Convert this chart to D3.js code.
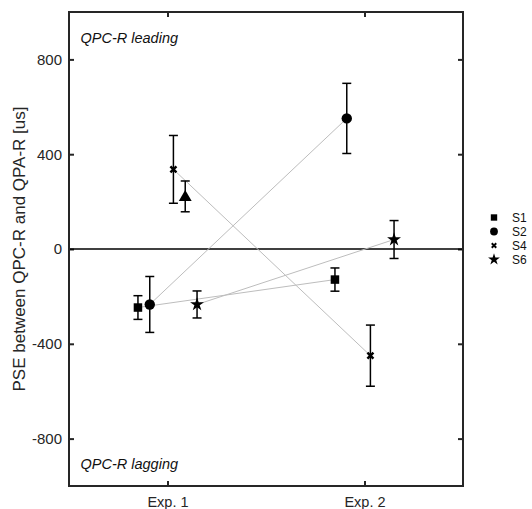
<!DOCTYPE html>
<html>
<head>
<meta charset="utf-8">
<script src="https://cdn.jsdelivr.net/npm/d3@7"></script>
<style>
  body { margin: 0; background: #fff; }
  text { font-family: "Liberation Sans", Arial, sans-serif; }
</style>
</head>
<body>
<div id="chart"></div>
<script>
// experiments on the x axis
var experiments = ["Exp. 1", "Exp. 2"];
var yTicks = [-800, -400, 0, 400, 800];

// subjects: name, marker, x offset inside a group, whether in legend
var subjects = ["S1", "S2", "S4", "S5", "S6"];
var markers = ["square", "circle", "cross", "triangle", "star"];
var offsets = [-0.15, -0.09, 0.03, 0.09, 0.15];
var inLegend = [true, true, true, false, true];

// PSE mean and error for each subject, [Exp. 1, Exp. 2] (null = no data)
var pseMean = [
    [-247, -129],
    [-234, 551],
    [336, -450],
    [222, null],
    [-234, 40]
];
var pseErr = [
    [50, 49],
    [118, 148],
    [143, 129],
    [65, null],
    [57, 80]
];

var margin = {top: 12, right: 69, bottom: 23, left: 69},
    width = 532 - margin.left - margin.right,
    height = 509 - margin.top - margin.bottom;

var svg = d3.select("#chart")
    .append("svg")
    .attr("width", 532)
    .attr("height", 509);

var g = svg.append("g")
    .attr("transform", "translate(" + margin.left + "," + margin.top + ")");

var x = d3.scaleLinear().domain([0.5, 2.5]).range([0, width]);
var y = d3.scaleLinear().domain([-1000, 1000]).range([height, 0]);

var axisColor = "#262626";

// axes with inward ticks, mirrored on top/right
var xAxis = d3.axisBottom(x).tickValues([1, 2])
    .tickFormat(function (d) { return experiments[d - 1]; })
    .tickSize(-5).tickPadding(11);
var yAxis = d3.axisLeft(y).tickValues(yTicks)
    .tickFormat(function (d) { return String(d); })
    .tickSize(-5).tickPadding(7);

g.append("g").attr("transform", "translate(0," + height + ")").call(xAxis)
    .call(function (a) { a.selectAll("text").style("font-size", "14.5px").attr("fill", axisColor); });
g.append("g").call(yAxis)
    .call(function (a) { a.selectAll("text").style("font-size", "15px").attr("fill", axisColor); });
g.append("g").call(d3.axisTop(x).tickValues([1, 2]).tickSize(-5).tickFormat(""));
g.append("g").attr("transform", "translate(" + width + ",0)")
    .call(d3.axisRight(y).tickValues(yTicks).tickSize(-5).tickFormat(""));

g.selectAll(".domain").remove();
g.selectAll(".tick line").attr("stroke", axisColor).attr("stroke-width", 2);

// zero line
g.append("line")
    .attr("x1", 0).attr("x2", width)
    .attr("y1", y(0)).attr("y2", y(0))
    .attr("stroke", "#000").attr("stroke-width", 1.5);

// connecting lines between experiments
subjects.forEach(function (s, i) {
    if (pseMean[i][1] === null) return;
    g.append("line")
        .attr("x1", x(1 + offsets[i])).attr("y1", y(pseMean[i][0]))
        .attr("x2", x(2 + offsets[i])).attr("y2", y(pseMean[i][1]))
        .attr("stroke", "#bdbdbd").attr("stroke-width", 1);
});

// error bars
subjects.forEach(function (s, i) {
    [0, 1].forEach(function (e) {
        if (pseMean[i][e] === null) return;
        var cx = x(e + 1 + offsets[i]),
            top = y(pseMean[i][e] + pseErr[i][e]),
            bot = y(pseMean[i][e] - pseErr[i][e]);
        var eb = g.append("g").attr("stroke", "#000").attr("stroke-width", 1.5);
        eb.append("line").attr("x1", cx).attr("x2", cx).attr("y1", top).attr("y2", bot);
        eb.append("line").attr("x1", cx - 4.5).attr("x2", cx + 4.5).attr("y1", top).attr("y2", top);
        eb.append("line").attr("x1", cx - 4.5).attr("x2", cx + 4.5).attr("y1", bot).attr("y2", bot);
    });
});

function drawMarker(sel, type, cx, cy) {
    if (type === "square") {
        sel.append("rect").attr("x", cx - 4.25).attr("y", cy - 4.25)
            .attr("width", 8.5).attr("height", 8.5).attr("fill", "#000");
    } else if (type === "circle") {
        sel.append("circle").attr("cx", cx).attr("cy", cy).attr("r", 5.2).attr("fill", "#000");
    } else if (type === "cross") {
        sel.append("path").attr("d", "M" + (cx - 3) + "," + (cy - 3) + "L" + (cx + 3) + "," + (cy + 3) +
            "M" + (cx - 3) + "," + (cy + 3) + "L" + (cx + 3) + "," + (cy - 3))
            .attr("stroke", "#000").attr("stroke-width", 2.5);
    } else if (type === "triangle") {
        sel.append("path").attr("transform", "translate(" + cx + "," + (cy + 1) + ")")
            .attr("d", d3.symbol(d3.symbolTriangle, 72)()).attr("fill", "#000");
    } else if (type === "star") {
        sel.append("path").attr("transform", "translate(" + cx + "," + cy + ")")
            .attr("d", d3.symbol(d3.symbolStar, 60)()).attr("fill", "#000");
    }
}

// markers
subjects.forEach(function (s, i) {
    [0, 1].forEach(function (e) {
        if (pseMean[i][e] === null) return;
        drawMarker(g, markers[i], x(e + 1 + offsets[i]), y(pseMean[i][e]));
    });
});

// box
g.append("rect").attr("width", width).attr("height", height)
    .attr("fill", "none").attr("stroke", axisColor).attr("stroke-width", 2);

// annotations
g.append("text").attr("x", 11.5).attr("y", 31)
    .style("font-size", "14.5px").style("font-style", "italic").attr("fill", "#111")
    .text("QPC-R leading");
g.append("text").attr("x", 11.5).attr("y", 457)
    .style("font-size", "14.5px").style("font-style", "italic").attr("fill", "#111")
    .text("QPC-R lagging");

// y label
svg.append("text")
    .attr("transform", "translate(25," + (margin.top + height / 2) + ") rotate(-90)")
    .attr("text-anchor", "middle")
    .style("font-size", "17px").attr("fill", axisColor)
    .text("PSE between QPC-R and QPA-R [us]");

// legend
var legendSubjects = subjects.filter(function (s, i) { return inLegend[i]; });
var legend = svg.append("g").attr("transform", "translate(494,217.5)");
legendSubjects.forEach(function (s, k) {
    var i = subjects.indexOf(s);
    var row = legend.append("g").attr("transform", "translate(0," + k * 14 + ")");
    var m = markers[i];
    var mg = row.append("g").attr("transform", "scale(" + (m === "star" ? 0.85 : 0.75) + ")");
    drawMarker(mg, m, 0, 0);
    row.append("text").attr("x", 18).attr("y", 4.5)
        .style("font-size", "12px").attr("fill", "#111").text(s);
});
</script>
</body>
</html>
